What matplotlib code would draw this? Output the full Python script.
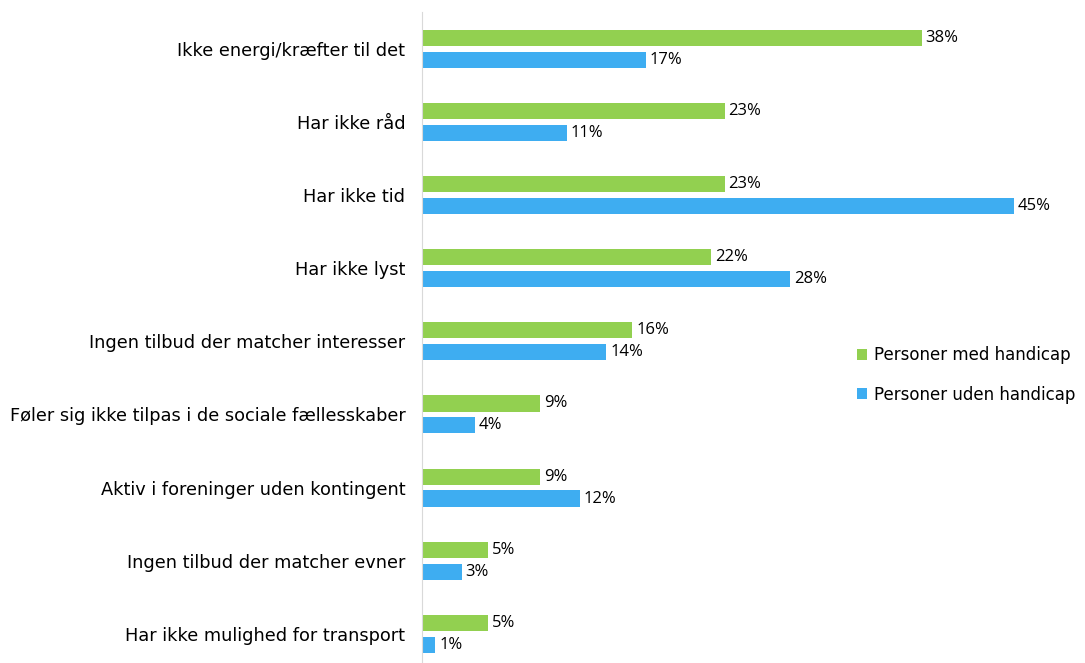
import numpy as np
from matplotlib import pyplot as plt

categories = ["Ikke energi/kræfter til det", "Har ikke råd", "Har ikke tid", "Har ikke lyst",
              "Ingen tilbud der matcher interesser", "Føler sig ikke tilpas i de sociale fællesskaber",
              "Aktiv i foreninger uden kontingent", "Ingen tilbud der matcher evner",
              "Har ikke mulighed for transport"]
med_handicap = [38, 23, 23, 22, 16, 9, 9, 5, 5]
uden_handicap = [17, 11, 45, 28, 14, 4, 12, 3, 1]
series_names = ["Personer med handicap", "Personer uden handicap"]

green = "#92D050"
blue = "#3EADF1"

fig = plt.figure(figsize=(10.85, 6.63), dpi=100)
ax = fig.add_axes([0.389, 0.0, 0.606, 0.982])

y = np.arange(len(categories))
h = 0.22
off = 0.15
b1 = ax.barh(y - off, med_handicap, height=h, color=green, label=series_names[0])
b2 = ax.barh(y + off, uden_handicap, height=h, color=blue, label=series_names[1])

# value labels next to the bars
for bars, vals in [(b1, med_handicap), (b2, uden_handicap)]:
    for bar, v in zip(bars, vals):
        ax.text(v + 0.3, bar.get_y() + bar.get_height() / 2, f"{v}%",
                va="center", ha="left", fontsize=12, family="Open Sans")

ax.set_xlim(0, 50)
ax.set_ylim(8.4, -0.506)
ax.set_yticks(y)
ax.set_yticklabels(categories, fontsize=12.8)
ax.tick_params(axis="y", length=0, pad=12)
ax.set_xticks([])
for s in ["top", "right", "bottom"]:
    ax.spines[s].set_visible(False)
ax.spines["left"].set_color("#D9D9D9")

leg = ax.legend(loc="upper left", bbox_to_anchor=(0.638, 0.51), frameon=False, fontsize=12,
                handlelength=0.65, handleheight=0.65, handletextpad=0.4, labelspacing=1.3)

plt.savefig("out.png")
